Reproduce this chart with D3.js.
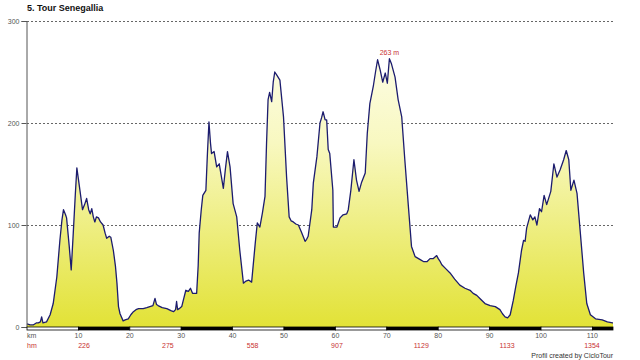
<!DOCTYPE html>
<html><head><meta charset="utf-8">
<script src="https://cdn.jsdelivr.net/npm/d3@7"></script>
<style>body{margin:0;background:#fff}svg{display:block;font-family:"Liberation Sans",Arial,sans-serif}</style>
</head><body><svg id="c" width="640" height="360"></svg>
<script>
const title = "5. Tour Senegallia";
const distKm = [0,0.6,1.2,1.8,2.2,2.6,2.85,3.1,3.8,4.5,5.1,5.8,6.4,6.8,7.1,7.5,7.7,8.2,8.6,9.0,9.4,9.7,10.0,10.3,10.8,11.2,11.6,12.0,12.3,12.6,12.9,13.2,13.5,13.9,14.3,14.8,15.2,15.5,16.0,16.3,16.8,17.2,17.5,17.8,18.1,18.7,19.1,19.7,20.2,20.7,21.2,21.7,22.6,23.3,23.9,24.5,24.9,25.2,25.5,26.3,27.2,28.0,28.5,28.9,29.1,29.3,29.6,30.1,30.5,30.9,31.4,31.8,32.2,33.0,33.3,33.5,33.9,34.2,34.8,35.1,35.4,35.7,35.9,36.4,36.9,37.4,37.8,38.2,38.6,39.0,39.5,40.1,40.8,41.4,42.1,42.6,43.1,43.7,44.4,44.8,45.3,45.8,46.3,46.6,46.9,47.2,47.6,47.9,48.2,48.6,49.2,49.9,50.5,51.0,51.4,51.8,52.3,52.8,53.4,54.1,54.4,54.7,55.4,55.7,56.4,57.0,57.3,57.6,58.0,58.3,58.6,58.9,59.5,59.6,60.3,60.9,61.5,62.2,62.5,63.0,63.6,64.1,64.6,65.1,65.8,66.2,66.7,67.4,67.8,68.2,68.7,69.2,69.7,70.1,70.5,70.9,71.6,72.2,72.9,73.5,74.2,74.8,75.5,76.5,77.2,77.8,78.4,79.0,79.7,80.0,80.4,80.7,81.5,82.3,83.2,84.2,85.2,86.2,86.8,87.5,88.3,89.1,90.1,91.1,92.0,92.5,93.0,93.5,94.0,94.6,95.1,95.6,96.2,96.6,96.9,97.2,97.9,98.4,98.8,99.2,99.7,100.1,100.6,101.1,101.9,102.5,103.1,103.7,104.4,104.9,105.4,105.8,106.4,107.0,107.6,108.3,108.9,109.6,110.6,111.9,112.9,113.9,114.0];
const elevM = [3,2,2,4,4,5,10,4,5,12,23,49,85,105,115,110,107,80,56,92,130,156,145,134,115,120,126,115,111,116,108,103,108,107,103,100,92,87,89,88,75,60,43,20,13,6,7,8,12,15,17,18,18,19,20,21,28,22,21,19,18,16,15,17,25,17,18,20,28,36,35,38,33,33,60,92,115,129,134,170,201,180,170,172,157,160,148,136,155,172,157,121,108,75,43,45,46,44,82,102,98,112,128,180,223,230,221,240,250,247,242,206,147,108,104,103,101,100,93,84,86,89,115,141,167,200,205,211,203,203,174,170,134,98,98,107,110,111,115,134,164,144,133,142,151,190,219,237,250,262,252,240,249,239,263,258,245,223,206,164,118,79,69,66,64,64,67,67,70,67,64,61,57,53,47,41,38,36,33,31,27,23,21,20,17,13,10,9,12,26,40,53,75,85,84,97,110,105,108,100,116,113,129,120,133,160,147,154,164,173,164,134,144,131,95,53,23,12,8,7,5,4,4];
const yTicks = [0,100,200,300];
const kmTicks = [10,20,30,40,50,60,70,80,90,100,110];
const hmKm = [11.1,27.4,43.9,60.3,76.7,93.4,109.9];
const hmLabels = ["226","275","558","907","1129","1133","1354"];
const peakKm = 70.5, peakLabel = "263 m";
const credit = "Profil created by CicloTour";

const svg = d3.select("#c");
const x = d3.scaleLinear().domain([0,114]).range([27,613]);
const y = d3.scaleLinear().domain([0,300]).range([327,21]);
const data = distKm.map((d,i)=>({k:d,e:elevM[i]}));

const defs = svg.append("defs");
const g = defs.append("linearGradient").attr("id","fillg").attr("gradientUnits","userSpaceOnUse")
  .attr("x1",0).attr("x2",0).attr("y1",y(300)).attr("y2",y(0));
g.append("stop").attr("offset","0%").attr("stop-color","#fffff4");
g.append("stop").attr("offset","40%").attr("stop-color","#f8f8c0");
g.append("stop").attr("offset","100%").attr("stop-color","#e2e236");

// title
svg.append("text").attr("x",27).attr("y",11).attr("font-size",9).attr("font-weight","bold").attr("fill","#111").text(title);

// grid
svg.append("g").selectAll("line").data(yTicks.filter(d=>d>0)).join("line")
  .attr("x1",x(0)).attr("x2",x(114)).attr("y1",d=>y(d)+0.5).attr("y2",d=>y(d)+0.5)
  .attr("stroke","#666").attr("stroke-dasharray","2,2").attr("stroke-width",1);

// area
svg.append("path").datum(data).attr("fill","url(#fillg)")
  .attr("d",d3.area().x(d=>x(d.k)).y0(y(0)).y1(d=>y(d.e)));
svg.append("path").datum(data).attr("fill","none").attr("stroke","#1c1c6e").attr("stroke-width",1.3)
  .attr("stroke-linejoin","round")
  .attr("d",d3.line().x(d=>x(d.k)).y(d=>y(d.e)));

// y axis
const ya = svg.append("g").attr("transform",`translate(${x(0)-0.5},0)`)
  .call(d3.axisLeft(y).tickValues(yTicks).tickSize(5).tickPadding(2));
ya.select(".domain").attr("stroke","#555");
ya.selectAll(".tick line").attr("stroke","#555");
ya.selectAll(".tick text").attr("font-size",7).attr("fill","#555").attr("font-family","Liberation Sans, Arial");

// bottom bar
const segs = d3.range(0,114,10).map(s=>({s:s,e:Math.min(s+10,114),black:(s/10)%2===1}));
svg.append("g").selectAll("rect").data(segs).join("rect")
  .attr("x",d=>x(d.s)).attr("width",d=>x(d.e)-x(d.s)).attr("y",y(0)).attr("height",3)
  .attr("fill",d=>d.black?"#000":"#fff").attr("stroke","#000").attr("stroke-width",0.8);

// km labels
svg.append("text").attr("x",x(0)).attr("y",338).attr("font-size",7).attr("fill","#555").text("km");
svg.append("g").selectAll("text").data(kmTicks).join("text")
  .attr("x",d=>x(d)).attr("y",338).attr("text-anchor","middle").attr("font-size",7).attr("fill","#555").text(d=>d);
svg.append("text").attr("x",x(0)).attr("y",348).attr("font-size",7).attr("fill","#c83232").text("hm");
svg.append("g").selectAll("text").data(hmKm).join("text")
  .attr("x",d=>x(d)).attr("y",348).attr("text-anchor","middle").attr("font-size",7).attr("fill","#c83232").text((d,i)=>hmLabels[i]);

// peak label
svg.append("text").attr("x",x(peakKm)).attr("y",y(263)-4).attr("text-anchor","middle").attr("font-size",7).attr("fill","#c83232").text(peakLabel);

// credit
svg.append("text").attr("x",613).attr("y",358).attr("text-anchor","end").attr("font-size",7).attr("fill","#333").text(credit);
</script></body></html>
